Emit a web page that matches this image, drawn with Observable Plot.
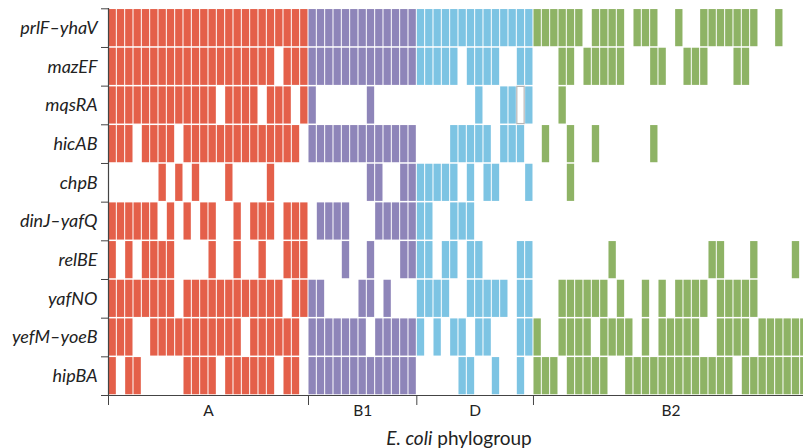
<!DOCTYPE html>
<html>
<head>
<meta charset="utf-8">
<script src="https://cdn.jsdelivr.net/npm/d3@7"></script>
<script src="https://cdn.jsdelivr.net/npm/@observablehq/plot@0.6"></script>
<style>
  body { margin: 0; background: #fff; }
  #wrap { position: relative; width: 803px; height: 448px; overflow: hidden; }
  #title { position: absolute; left: 459px; top: 427px; transform: translateX(-50%);
           font: 19px Lato, sans-serif; color: #222; white-space: nowrap; line-height: 22px; }
</style>
</head>
<body>
<div id="wrap"><div id="chart"></div><div id="title"><i>E. coli</i> phylogroup</div></div>
<script>
// Toxin–antitoxin systems (rows)
const genes = ["prlF–yhaV", "mazEF", "mqsRA", "hicAB", "chpB", "dinJ–yafQ", "relBE", "yafNO", "yefM–yoeB", "hipBA"];

// Phylogroups (column blocks)
const groups = ["A", "B1", "D", "B2"];
const groupSizes = [24, 13, 14, 33];
const groupColors = ["#E4604A", "#8E85B9", "#7DC4E3", "#8EB365"];

// Presence (1), absence (0), outlined empty cell (2); one string per gene, per group
const presenceA = [
  "11111 11111 11111 11111 1111",
  "11111 11111 11111 11111 0111",
  "11111 11111 11101 11101 1101",
  "11101 11101 11111 11111 1110",
  "00000 01010 10001 00001 0000",
  "11111 10101 01100 10111 0111",
  "10101 11100 00100 10010 0111",
  "11111 11101 11111 11111 1011",
  "11100 11111 11111 10111 1110",
  "10110 00001 11101 11111 0110"
];
const presenceB1 = [
  "11111 11111 111",
  "11111 11111 111",
  "10000 00100 000",
  "11111 11111 111",
  "00000 00110 011",
  "01111 00011 111",
  "00001 00100 011",
  "11000 01101 000",
  "11111 11011 111",
  "11111 11111 111"
];
const presenceD = [
  "11111 11111 1111",
  "11111 01111 0011",
  "00000 00100 1121",
  "00001 11110 1110",
  "11111 01011 0001",
  "11001 11000 0000",
  "11011 01100 0011",
  "11110 01111 1011",
  "10101 10110 0011",
  "00000 11001 0010"
];
const presenceB2 = [
  "11111 10111 10111 00100 11111 11001 000",
  "00011 01111 10001 10011 10001 10000 000",
  "00010 00000 00000 00000 00000 00000 000",
  "01001 00100 00001 00000 00000 00000 000",
  "00001 00000 00000 00000 00000 00000 000",
  "00000 00000 00000 00000 00000 00000 000",
  "00000 00001 00000 00000 01100 01000 010",
  "00011 11110 10010 10111 10111 11000 000",
  "10011 11011 11010 11111 00111 10111 111",
  "11101 11110 01111 11111 11110 11111 111"
];

const presence = [presenceA, presenceB1, presenceD, presenceB2];
const cells = [];
const bounds = [];
let start = 0;
groups.forEach((g, gi) => {
  bounds.push(start);
  presence[gi].forEach((s, row) => {
    const str = s.replace(/\s/g, "");
    if (str.length !== groupSizes[gi]) console.warn("length mismatch", g, row, str.length);
    [...str].forEach((c, k) => {
      if (c !== "0") cells.push({group: g, col: start + k, row, kind: c});
    });
  });
  start += groupSizes[gi];
});
const total = start;
const colW = 8.333;
const centers = groups.map((g, i) => bounds[i] + groupSizes[i] / 2);

const rectOpts = {
  x1: "col", x2: d => d.col + 1, y1: "row", y2: d => d.row + 1,
  insetLeft: 0.5, insetRight: 0.5, insetTop: 0.75, insetBottom: 0.75
};

const chart = Plot.plot({
  width: 803, height: 427,
  marginLeft: 108, marginRight: 0, marginTop: 8, marginBottom: 32,
  x: {domain: [0, total], range: [108, 108 + total * colW], axis: null},
  y: {domain: [0, genes.length], range: [8.3, 395], axis: null},
  color: {domain: groups, range: groupColors},
  style: {fontFamily: "Lato, sans-serif", fontSize: "15px", color: "#222", background: "white"},
  marks: [
    Plot.rect(cells.filter(d => d.kind === "1"), {...rectOpts, fill: "group"}),
    Plot.rect(cells.filter(d => d.kind === "2"), {...rectOpts, fill: "white", stroke: "#b5b5b5", strokeWidth: 1.2}),
    Plot.ruleX([0], {stroke: "#444", strokeWidth: 1.2}),
    Plot.ruleY([genes.length], {stroke: "#444", strokeWidth: 1.2}),
    Plot.axisY({ticks: d3.range(genes.length + 1), tickSize: 7, tickFormat: () => "", label: null, stroke: "#444"}),
    Plot.axisX({ticks: bounds, tickSize: 10, tickFormat: () => "", label: null, stroke: "#444"}),
    Plot.text(genes, {x: 0, y: (d, i) => i + 0.5, text: d => d, dx: -11, textAnchor: "end",
                      fontStyle: "italic", fontSize: 18, fill: "#222"}),
    Plot.text(groups, {x: (d, i) => centers[i], y: genes.length, text: d => d, dy: 16,
                       fontSize: 15.5, fill: "#222"})
  ]
});
document.getElementById("chart").appendChild(chart);
</script>
</body>
</html>
